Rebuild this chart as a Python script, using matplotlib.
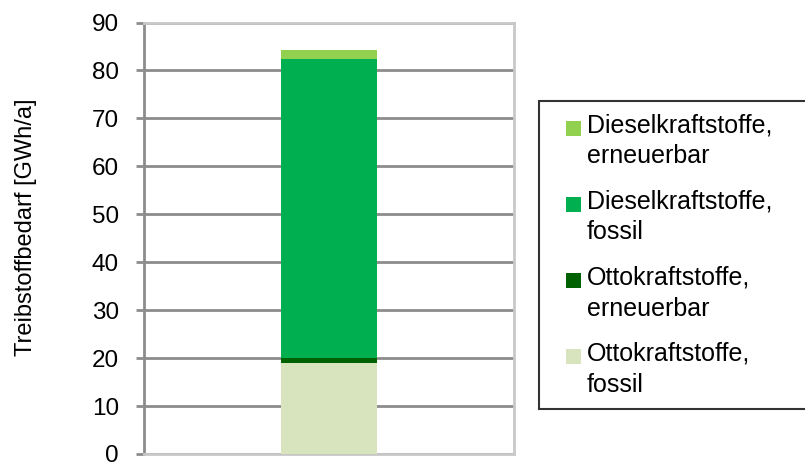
import matplotlib.pyplot as plt
from matplotlib.patches import Rectangle
from matplotlib.legend_handler import HandlerPatch
import numpy as np

plt.rcParams['font.family'] = ['Liberation Sans', 'DejaVu Sans']

# stacked fuel demand, bottom to top
series = ['Ottokraftstoffe,\nfossil', 'Ottokraftstoffe,\nerneuerbar',
          'Dieselkraftstoffe,\nfossil', 'Dieselkraftstoffe,\nerneuerbar']
values = [18.9, 1.1, 62.3, 1.9]
colors = ['#d7e4bd', '#006100', '#00b050', '#92d050']
yticks = np.arange(0, 100, 10)

fig = plt.figure(figsize=(8.05, 4.62), dpi=100)
ax = fig.add_axes([144 / 805, 8 / 462, 370 / 805, 431.5 / 462])

bottom = 0
bars = []
for name, val, col in zip(series, values, colors):
    b = ax.bar(0, val, width=0.262, bottom=bottom, color=col, label=name, zorder=3)
    bars.append(b)
    bottom += val

ax.set_xlim(-0.5, 0.5)
ax.set_ylim(0, 90)
ax.set_yticks(yticks)
ax.set_xticks([])
ax.yaxis.grid(True, color='#8c8c8c', linewidth=2, zorder=0)
ax.tick_params(axis='y', length=6, width=2, color='#8c8c8c', labelsize=17.5, pad=12)
ax.spines['left'].set_color('#8c8c8c')
ax.spines['left'].set_linewidth(2)
for s in ['top', 'right', 'bottom']:
    ax.spines[s].set_color('#c8c8c8')
    ax.spines[s].set_linewidth(2)
ax.set_ylabel('Treibstoffbedarf [GWh/a]', fontsize=17)
ax.yaxis.set_label_coords(-0.29, 0.525)


def right_square(legend, orig_handle, xdescent, ydescent, width, height, fontsize):
    side = 0.6 * fontsize
    return Rectangle((-xdescent + width - side, -ydescent + height - side - 0.08 * fontsize),
                     side, side)


# legend box runs past the right edge of the figure
handles = [b[0] for b in bars][::-1]
labels = series[::-1]
leg = fig.legend(handles, labels, loc='upper left', mode='expand',
                 bbox_to_anchor=(539 / 805, 0, 0.34, 1 - 101 / 462), borderaxespad=0,
                 fontsize=18, frameon=True, fancybox=False,
                 edgecolor='black', handlelength=1.18, handleheight=2.6,
                 handletextpad=0.24, labelspacing=0.85, borderpad=0.5,
                 handler_map={Rectangle: HandlerPatch(patch_func=right_square)})
leg.get_frame().set_linewidth(1.5)
for t in leg.get_texts():
    t.set_linespacing(1.36)

fig.savefig('out.png', dpi=100)
